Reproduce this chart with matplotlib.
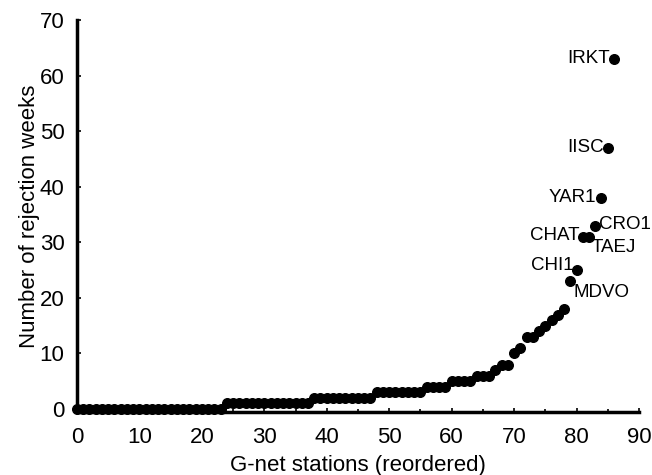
import matplotlib.pyplot as plt
from matplotlib.ticker import MultipleLocator

plt.rcParams['font.family'] = ['Liberation Sans', 'DejaVu Sans']

# number of rejection weeks per station, sorted ascending
weeks = ([0] * 24 + [1] * 14 + [2] * 10 + [3] * 8 + [4] * 4 + [5] * 4 + [6] * 3
         + [7, 8, 8, 10, 11, 13, 13, 14, 15, 16, 17, 18]
         + [23, 25, 31, 31, 33, 38, 47, 63])
stations = list(range(len(weeks)))

# named outliers: (label, station index, text offset in points, alignment)
names = ['MDVO', 'CHI1', 'CHAT', 'TAEJ', 'CRO1', 'YAR1', 'IISC', 'IRKT']
name_idx = [79, 80, 81, 82, 83, 84, 85, 86]
offsets = [(2, -8), (-2, 3), (-2, 1), (2, -8), (3, 1), (-4, 0), (-3, 0), (-3, 0)]
aligns = ['left', 'right', 'right', 'left', 'left', 'right', 'right', 'right']

fig = plt.figure(figsize=(6.52, 4.75), dpi=100)
ax = fig.add_axes([0.118, 0.133, 0.862, 0.825])

ax.scatter(stations, weeks, s=48, color='black', zorder=3, clip_on=False)

for n, i, off, ha in zip(names, name_idx, offsets, aligns):
    ax.annotate(n, (stations[i], weeks[i]), xytext=off, textcoords='offset points',
                ha=ha, va='center', fontsize=13.5)

ax.set_xlim(0, 90)
ax.set_ylim(-0.5, 70)
ax.xaxis.set_major_locator(MultipleLocator(10))
ax.xaxis.set_minor_locator(MultipleLocator(5))
ax.yaxis.set_major_locator(MultipleLocator(10))
ax.tick_params(which='both', direction='in', length=3, width=1.2, labelsize=16)
ax.tick_params(axis='x', pad=11)
ax.tick_params(axis='y', pad=9)
ax.tick_params(axis='x', which='minor', length=2)

for s in ['top', 'right']:
    ax.spines[s].set_visible(False)
for s in ['left', 'bottom']:
    ax.spines[s].set_linewidth(2.5)

ax.set_xlabel('G-net stations (reordered)', fontsize=16, labelpad=5)
ax.set_ylabel('Number of rejection weeks', fontsize=16, labelpad=0)

fig.savefig('out.png', dpi=100)
